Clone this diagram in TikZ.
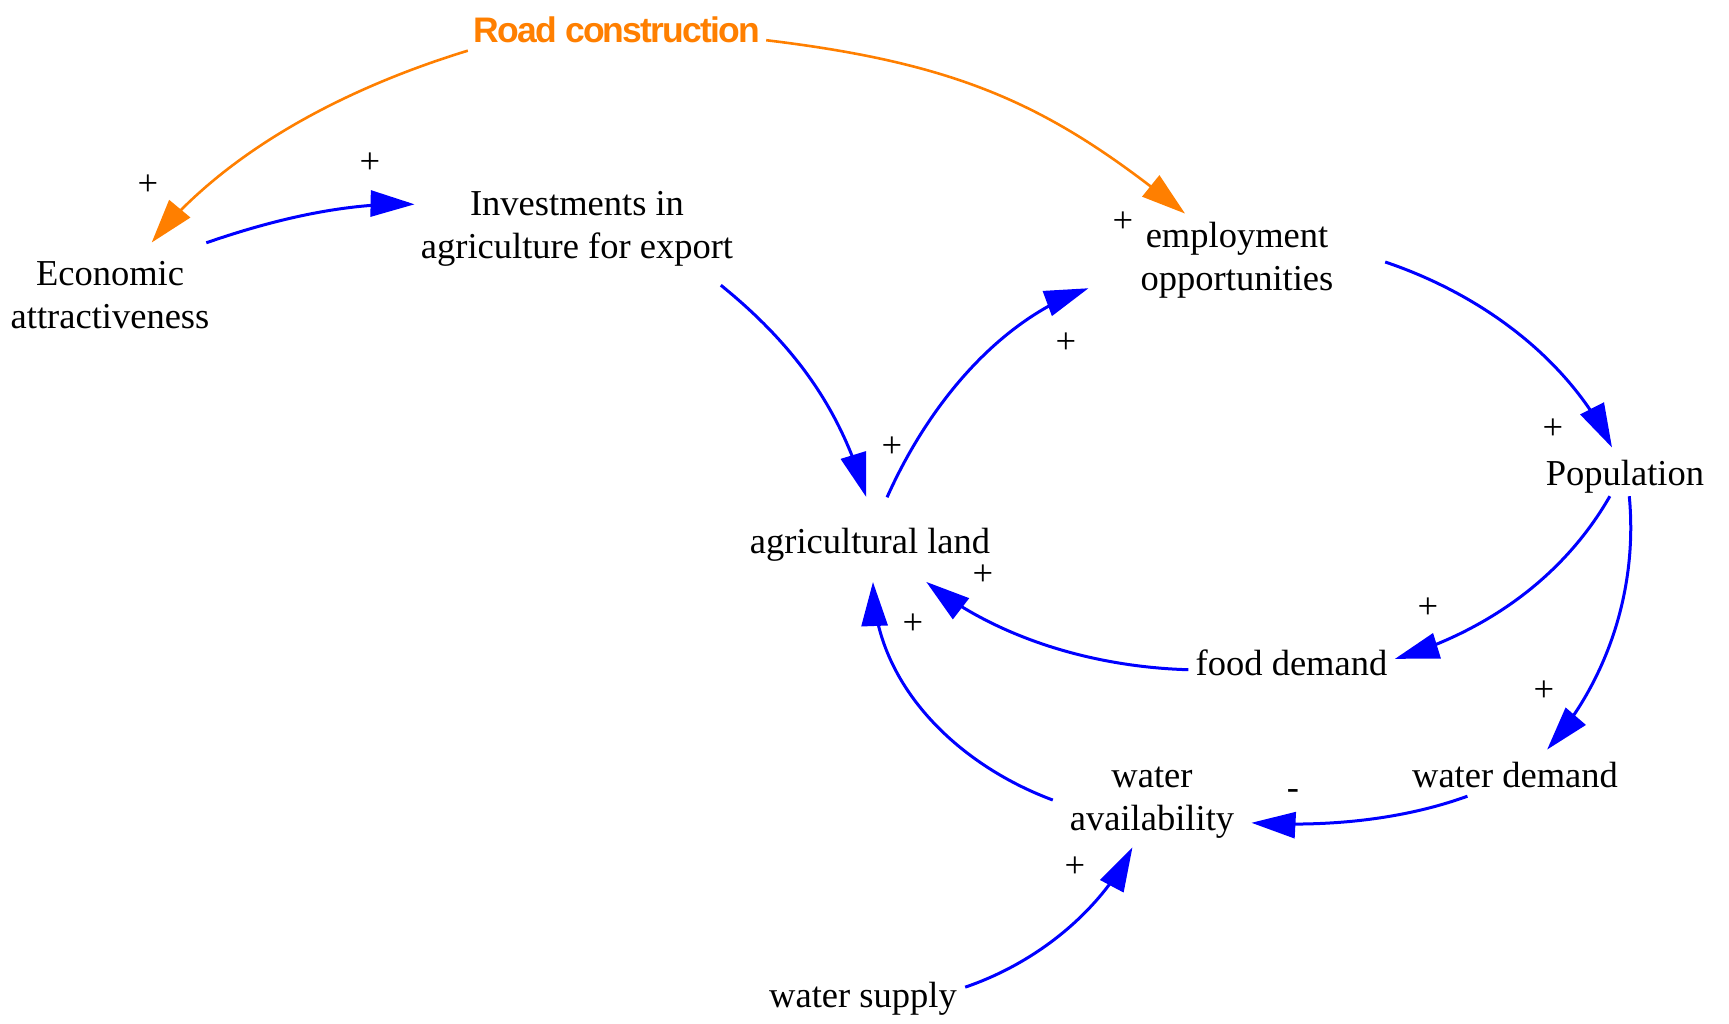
\documentclass[tikz,border=0pt]{standalone}
\usepackage{fontspec}
\setmainfont{Liberation Serif}
\newfontfamily\roadfont[LetterSpace=-5]{Liberation Sans}
\usetikzlibrary{arrows.meta,decorations.markings}
\definecolor{cldblue}{RGB}{0,0,255}
\definecolor{cldorange}{RGB}{255,127,0}
\newcommand{\mytwo}[2]{\begin{tabular}[b]{@{}c@{}}#1\\#2\end{tabular}}
\tikzset{
  var/.style={inner sep=0pt, anchor=base, font=\fontsize{36.5}{43}\selectfont},
  sgn/.style={inner sep=0pt, font=\fontsize{36.5}{43}\selectfont},
  bedge/.style={draw=cldblue, line width=3pt, shorten >=6pt,
    postaction={decorate, decoration={markings,
      mark=at position 0.999 with {\arrow{Triangle[length=44pt,width=26pt,color=cldblue]}}}}},
  oedge/.style={draw=cldorange, line width=2.6pt, shorten >=6pt,
    postaction={decorate, decoration={markings,
      mark=at position 0.999 with {\arrow{Triangle[length=44pt,width=27pt,color=cldorange]}}}}}
}
\begin{document}
\begin{tikzpicture}[x=1pt, y=-1pt]
\useasboundingbox (0,0) rectangle (1729,1023);
% nodes
\node[var, text height=32pt, text depth=18pt, minimum width=298pt,
      font=\roadfont\bfseries\fontsize{35.5}{43}\selectfont, text=cldorange]
      (road) at (617,42) {Road construction};
\node[var, text height=85pt, text depth=17pt, minimum width=198pt] (eco) at (110,328) {\mytwo{Economic}{attractiveness}};
\node[var, text height=83pt, text depth=27pt, minimum width=324pt] (inv) at (577,258) {\mytwo{Investments in}{agriculture for export}};
\node[var, text height=76pt, text depth=20pt, minimum width=296pt] (emp) at (1237,290) {\mytwo{employment}{opportunities}};
\node[var, text height=37pt, text depth=11pt, minimum width=160pt] (pop) at (1625,485) {Population};
\node[var, text height=55.5pt, text depth=28.5pt, minimum width=250pt] (agri) at (870,553) {agricultural land};
\node[var, text height=40pt, text depth=15pt, minimum width=206pt] (food) at (1291.5,675) {food demand};
\node[var, text height=37pt, text depth=9pt, minimum width=208pt] (wd) at (1515,787) {water demand};
\node[var, text height=70pt, text depth=17pt, minimum width=198pt] (wa) at (1152,830) {\mytwo{water}{availability}};
\node[var, text height=37pt, text depth=8pt, minimum width=204pt] (ws) at (863,1007) {water supply};
% connectors
\draw[oedge] (road.186) .. controls (349,87) and (230,148) .. (eco.51);
\draw[oedge] (road.358) .. controls (964,64) and (1053,107) .. (emp.137);
\draw[bedge] (eco.28) .. controls (273,219.6) and (344,203) .. (inv.171);
\draw[bedge] (inv.339) .. controls (806,354) and (843,421) .. (agri.95);
\draw[bedge] (agri.68) .. controls (928,405.5) and (997,322) .. (emp.190);
\draw[bedge] (emp.0) .. controls (1483,295) and (1567,359) .. (pop.118);
\draw[bedge] (pop.238) .. controls (1562.5,578.7) and (1485.2,631) .. (food.2);
\draw[bedge] (pop.280) .. controls (1638,589) and (1607.5,679.3) .. (wd.36);
\draw[bedge] (food.184) .. controls (1094.5,667) and (999.7,638.8) .. (agri.323);
\draw[bedge] (wd.206) .. controls (1399.4,820.8) and (1324,826.7) .. (wa.349);
\draw[bedge] (wa.178) .. controls (956,764) and (876.6,684.5) .. (agri.274);
\draw[bedge] (ws.3) .. controls (1036,963) and (1097.6,913) .. (wa.246);
% polarity labels
\node[sgn] (s1) at (148,185) {+};
\node[sgn] (s2) at (370,163) {+};
\node[sgn] (s3) at (1123,222) {+};
\node[sgn] (s4) at (1066,343) {+};
\node[sgn] (s5) at (892,447) {+};
\node[sgn] (s6) at (1553,429) {+};
\node[sgn] (s7) at (983,575) {+};
\node[sgn] (s8) at (913,624) {+};
\node[sgn] (s9) at (1428,608) {+};
\node[sgn] (s10) at (1544,691) {+};
\node[sgn] (s11) at (1293,794.5) {-};
\node[sgn] (s12) at (1075,867) {+};
\end{tikzpicture}
\end{document}
